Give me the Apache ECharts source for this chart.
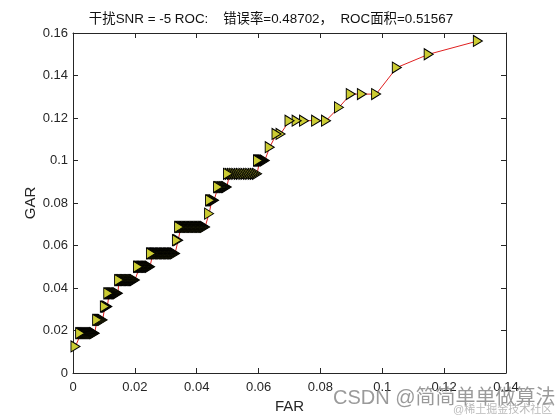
<!DOCTYPE html>
<html>
<head>
<meta charset="utf-8">
<script src="https://cdn.jsdelivr.net/npm/echarts@6/dist/echarts.min.js"></script>
<style>html,body{margin:0;padding:0;background:#fff;}#c{width:560px;height:420px;}</style>
</head>
<body>
<div id="c"></div>
<script>
// GAR level of each step and the FAR values of the markers on that step
const garLevels = [0.0125, 0.01875, 0.025, 0.03125, 0.0375, 0.04375, 0.05, 0.05625, 0.0625, 0.06875,
  0.075, 0.08125, 0.0875, 0.09375, 0.1, 0.10625, 0.1125, 0.11875, 0.125, 0.13125, 0.14375, 0.15, 0.15625];
const farGroups = [
  [0.0008],
  [0.0023, 0.0026, 0.0029, 0.0032, 0.0035, 0.0038, 0.0041, 0.0044, 0.0047, 0.0050, 0.0053, 0.0056, 0.0059, 0.0062, 0.0065, 0.0068, 0.0070],
  [0.0078, 0.0081, 0.0084, 0.0087, 0.0090, 0.0093, 0.0096],
  [0.0103, 0.0106, 0.0108, 0.0111],
  [0.0114, 0.0117, 0.0120, 0.0123, 0.0126, 0.0129, 0.0132, 0.0135, 0.0139, 0.0142, 0.0145],
  [0.0149, 0.0152, 0.0155, 0.0158, 0.0161, 0.0165, 0.0168, 0.0171, 0.0174, 0.0178, 0.0181, 0.0184, 0.0187, 0.0191, 0.0194, 0.0197, 0.0200],
  [0.0210, 0.0213, 0.0216, 0.0220, 0.0223, 0.0226, 0.0229, 0.0233, 0.0236, 0.0239, 0.0242, 0.0246, 0.0249],
  [0.0252, 0.0255, 0.0258, 0.0262, 0.0265, 0.0268, 0.0271, 0.0274, 0.0277, 0.0281, 0.0284, 0.0287, 0.0290,
   0.0294, 0.0297, 0.0300, 0.0303, 0.0307, 0.0310, 0.0313, 0.0316, 0.0320, 0.0323, 0.0326, 0.0330],
  [0.0336, 0.0340],
  [0.0343, 0.0346, 0.0349, 0.0353, 0.0356, 0.0359, 0.0362, 0.0366, 0.0369, 0.0372, 0.0375, 0.0379, 0.0382, 0.0385,
   0.0388, 0.0392, 0.0395, 0.0398, 0.0401, 0.0405, 0.0408, 0.0411, 0.0414, 0.0418, 0.0421, 0.0424, 0.0427],
  [0.0440],
  [0.0443, 0.0446, 0.0449, 0.0453, 0.0456],
  [0.0469, 0.0472, 0.0476, 0.0480, 0.0483, 0.0487, 0.0490, 0.0494, 0.0497],
  [0.0501, 0.0507, 0.0514, 0.0521, 0.0528, 0.0536, 0.0543, 0.0551, 0.0558, 0.0566, 0.0573, 0.0581, 0.0588, 0.0595],
  [0.0598, 0.0601, 0.0604, 0.0607, 0.0610, 0.0613, 0.0616, 0.0620],
  [0.0636],
  [0.0658, 0.0671],
  [0.0700, 0.0723, 0.0747, 0.0786, 0.0818],
  [0.0860],
  [0.0898, 0.0934, 0.0980],
  [0.1047],
  [0.1150],
  [0.1309]
];
const xTicks = [0, 0.14, 0.02];   // min, max, interval
const yTicks = [0, 0.16, 0.02];
const titleText = '干扰SNR = -5 ROC:    错误率=0.48702，  ROC面积=0.51567';

const pts = [];
garLevels.forEach((g, i) => farGroups[i].forEach(f => pts.push([f, g])));
pts.reverse(); // drawn from high FAR to low FAR, so leftmost marker of each step is on top

const FONT = '"Liberation Sans", Arial, "Noto Sans CJK SC", sans-serif';
const axisCol = '#262626';
function xAx(pos, labels) {
  return {
    type: 'value', position: pos, min: xTicks[0], max: xTicks[1], interval: xTicks[2],
    axisLine: {show: true, onZero: false, lineStyle: {color: axisCol, width: 1}},
    axisTick: {show: true, inside: true, length: 5, lineStyle: {color: axisCol}},
    axisLabel: {show: labels, color: axisCol, fontSize: 13, fontFamily: FONT, margin: 8},
    splitLine: {show: false}
  };
}
function yAx(pos, labels) {
  return {
    type: 'value', position: pos, min: yTicks[0], max: yTicks[1], interval: yTicks[2],
    axisLine: {show: true, onZero: false, lineStyle: {color: axisCol, width: 1}},
    axisTick: {show: true, inside: true, length: 5, lineStyle: {color: axisCol}},
    axisLabel: {show: labels, color: axisCol, fontSize: 13, fontFamily: FONT, margin: 5},
    splitLine: {show: false}
  };
}
const xa = xAx('bottom', true);
xa.name = 'FAR'; xa.nameLocation = 'middle'; xa.nameGap = 26; xa.nameMoveOverlap = false;
xa.nameTextStyle = {color: axisCol, fontSize: 15, fontFamily: FONT};
const ya = yAx('left', true);
ya.name = 'GAR'; ya.nameLocation = 'middle'; ya.nameGap = 35; ya.nameMoveOverlap = false;
ya.nameTextStyle = {color: axisCol, fontSize: 15, fontFamily: FONT};

const chart = echarts.init(document.getElementById('c'), null, {renderer: 'canvas'});
chart.setOption({
  animation: false,
  backgroundColor: '#fff',
  grid: {left: 73, right: 54, top: 33, bottom: 47, containLabel: false},
  xAxis: [xa, xAx('top', false)],
  yAxis: [ya, yAx('right', false)],
  series: [{
    type: 'line', xAxisIndex: 0, yAxisIndex: 0,
    data: pts,
    showSymbol: true, showAllSymbol: true,
    symbol: 'triangle', symbolRotate: -90, symbolSize: [11, 9],
    itemStyle: {color: '#cccc33', borderColor: '#000', borderWidth: 1},
    lineStyle: {color: '#e02020', width: 1},
    emphasis: {disabled: true}
  }],
  graphic: [
    {type: 'text', x: 271, y: 19, z: 100,
     style: {text: titleText, fill: '#111', fontSize: 13.4, fontFamily: FONT, align: 'center', verticalAlign: 'middle'}},
    {type: 'text', left: 333, top: 388, z: 100,
     style: {text: 'CSDN @简简单单做算法', fill: 'rgba(120,120,120,0.75)', fontSize: 20, fontFamily: FONT}},
    {type: 'text', left: 453, top: 404, z: 100,
     style: {text: '@稀土掘金技术社区', fill: 'rgba(140,140,140,0.6)', fontSize: 11, fontFamily: FONT}}
  ]
});
</script>
</body>
</html>
